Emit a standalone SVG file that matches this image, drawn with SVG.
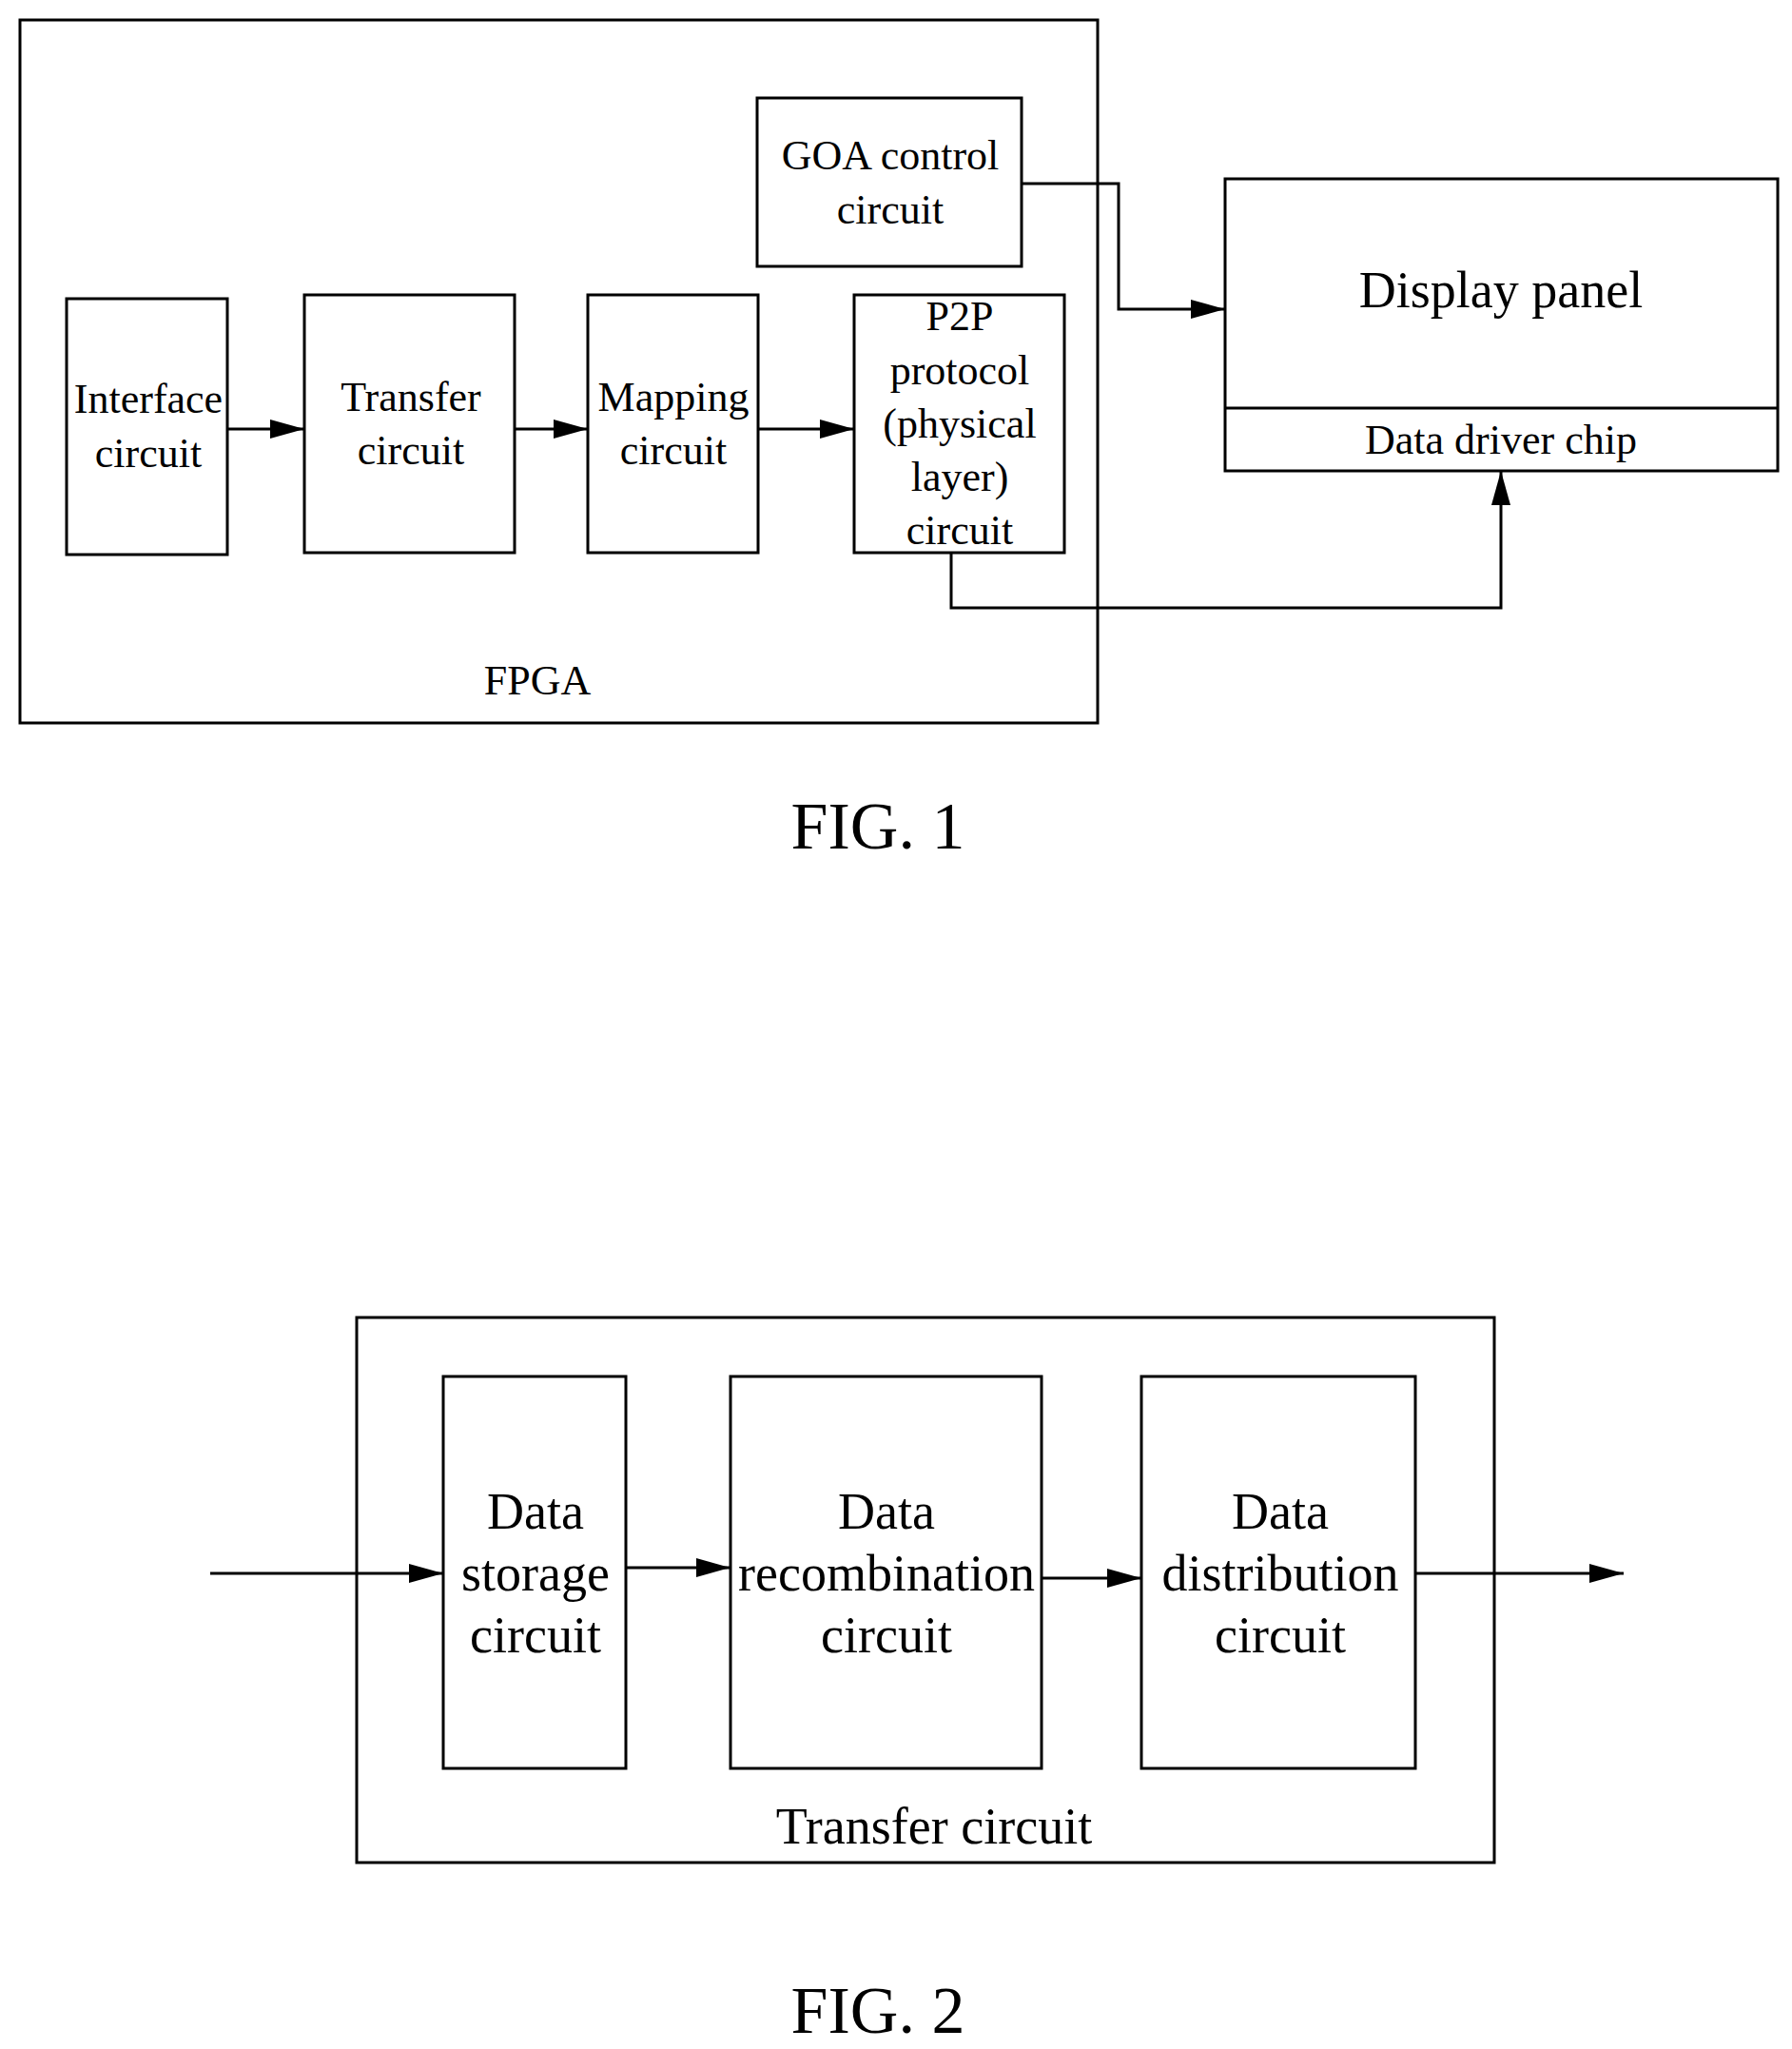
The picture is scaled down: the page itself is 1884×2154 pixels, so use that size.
<svg xmlns="http://www.w3.org/2000/svg" width="1884" height="2154" viewBox="0 0 1884 2154">
<style>
rect{fill:none;stroke:#000;stroke-width:3}
text{font-family:"Liberation Serif",serif;text-anchor:middle;fill:#000}
.t{font-size:44px}
.b{font-size:54px}
.l{stroke:#000;stroke-width:3;fill:none}
</style>
<defs>
<marker id="A" viewBox="0 0 36 20" refX="36" refY="10" markerWidth="36" markerHeight="20" orient="auto" markerUnits="userSpaceOnUse"><path d="M0,0L36,10L0,20z"/></marker></defs>
<rect fill="#fff" width="1884" height="2154" style="fill:#fff;stroke:none"/>
<g id="fpga"><rect x="21" y="21" width="1133" height="739"/><text class="t" x="565" y="730">FPGA</text></g>
<g id="goa"><rect x="796" y="103" width="278" height="177"/><text class="t" x="936" y="178">GOA control</text><text class="t" x="936" y="235">circuit</text></g>
<g id="interface"><rect x="70" y="314" width="169" height="269"/><text class="t" x="156" y="434">Interface</text><text class="t" x="156" y="491">circuit</text></g>
<g id="transfer"><rect x="320" y="310" width="221" height="271"/><text class="t" x="432" y="432">Transfer</text><text class="t" x="432" y="488">circuit</text></g>
<g id="mapping"><rect x="618" y="310" width="179" height="271"/><text class="t" x="708" y="432">Mapping</text><text class="t" x="708" y="488">circuit</text></g>
<g id="p2p"><rect x="898" y="310" width="221" height="271"/>
<text class="t" x="1009" y="347">P2P</text><text class="t" x="1009" y="404">protocol</text><text class="t" x="1009" y="460">(physical</text><text class="t" x="1009" y="516">layer)</text><text class="t" x="1009" y="572">circuit</text></g>
<g id="display"><rect x="1288" y="188" width="581" height="307"/><line class="l" x1="1288" y1="429" x2="1869" y2="429"/>
<text x="1578" y="323" style="font-size:54px">Display panel</text><text class="t" x="1578" y="477">Data driver chip</text></g>
<text x="923" y="892" style="font-size:70px">FIG. 1</text>
<g id="fig2box"><rect x="375" y="1385" width="1196" height="573"/><text class="b" x="982" y="1938">Transfer circuit</text></g>
<g id="storage"><rect x="466" y="1447" width="192" height="412"/><text class="b" x="563" y="1607">Data</text><text class="b" x="563" y="1672">storage</text><text class="b" x="563" y="1737">circuit</text></g>
<g id="recomb"><rect x="768" y="1447" width="327" height="412"/><text class="b" x="932" y="1607">Data</text><text class="b" x="932" y="1672">recombination</text><text class="b" x="932" y="1737">circuit</text></g>
<g id="dist"><rect x="1200" y="1447" width="288" height="412"/><text class="b" x="1346" y="1607">Data</text><text class="b" x="1346" y="1672">distribution</text><text class="b" x="1346" y="1737">circuit</text></g>
<text x="923" y="2137" style="font-size:70px">FIG. 2</text>
<g id="connectors">
<line class="l" x1="239" y1="451" x2="320" y2="451" marker-end="url(#A)"/>
<line class="l" x1="541" y1="451" x2="618" y2="451" marker-end="url(#A)"/>
<line class="l" x1="797" y1="451" x2="898" y2="451" marker-end="url(#A)"/>
<polyline class="l" points="1074,193 1176,193 1176,325 1288,325" marker-end="url(#A)"/>
<polyline class="l" points="1000,581 1000,639 1578,639 1578,495" marker-end="url(#A)"/>
<line class="l" x1="221" y1="1654" x2="466" y2="1654" marker-end="url(#A)"/>
<line class="l" x1="658" y1="1648" x2="768" y2="1648" marker-end="url(#A)"/>
<line class="l" x1="1095" y1="1659" x2="1200" y2="1659" marker-end="url(#A)"/>
<line class="l" x1="1488" y1="1654" x2="1707" y2="1654" marker-end="url(#A)"/>
</g>
</svg>
